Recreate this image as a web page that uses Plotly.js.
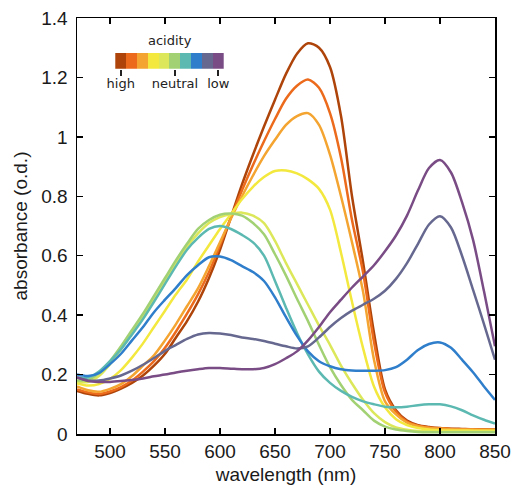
<!DOCTYPE html>
<html>
<head>
<meta charset="utf-8">
<script src="https://cdn.plot.ly/plotly-3.0.1.min.js"></script>
<style>html,body{margin:0;padding:0;background:#fff;}#chart{width:513px;height:485px;}</style>
</head>
<body>
<div id="chart"></div>
<script>
const wavelength = [470,480,490,500,510,520,530,540,550,560,570,580,590,600,610,620,630,640,650,660,670,680,690,700,710,720,730,740,750,760,770,780,790,800,810,820,830,840,850];

const absHigh1 = [0.145,0.135,0.13,0.138,0.153,0.172,0.197,0.23,0.27,0.325,0.38,0.445,0.525,0.62,0.73,0.84,0.94,1.035,1.125,1.212,1.28,1.315,1.30,1.235,1.07,0.80,0.58,0.34,0.15,0.08,0.045,0.03,0.024,0.02,0.018,0.017,0.016,0.016,0.015];
const absHigh2 = [0.15,0.14,0.135,0.143,0.158,0.18,0.21,0.245,0.29,0.345,0.405,0.47,0.545,0.635,0.73,0.82,0.905,0.985,1.06,1.128,1.172,1.193,1.165,1.08,0.93,0.72,0.545,0.31,0.14,0.075,0.042,0.028,0.022,0.019,0.017,0.016,0.015,0.015,0.014];
const absHigh3 = [0.16,0.147,0.142,0.152,0.168,0.195,0.23,0.265,0.315,0.37,0.43,0.49,0.565,0.645,0.725,0.80,0.87,0.935,0.99,1.04,1.07,1.08,1.04,0.94,0.80,0.645,0.48,0.25,0.11,0.066,0.038,0.026,0.02,0.018,0.016,0.015,0.015,0.014,0.014];
const absMid4 = [0.17,0.163,0.168,0.185,0.215,0.257,0.305,0.36,0.415,0.47,0.52,0.58,0.635,0.69,0.74,0.79,0.832,0.865,0.885,0.887,0.877,0.857,0.825,0.755,0.61,0.445,0.29,0.16,0.09,0.05,0.03,0.02,0.015,0.013,0.012,0.012,0.011,0.011,0.011];
const absMid5 = [0.175,0.175,0.195,0.235,0.285,0.34,0.395,0.455,0.515,0.575,0.63,0.675,0.71,0.73,0.74,0.745,0.735,0.71,0.65,0.575,0.505,0.435,0.365,0.30,0.23,0.17,0.115,0.07,0.04,0.022,0.014,0.01,0.009,0.008,0.008,0.008,0.008,0.008,0.008];
const absNeutral6 = [0.18,0.182,0.205,0.245,0.295,0.35,0.405,0.465,0.525,0.585,0.64,0.69,0.72,0.738,0.742,0.735,0.71,0.672,0.605,0.533,0.455,0.38,0.30,0.225,0.165,0.115,0.08,0.045,0.025,0.015,0.01,0.007,0.006,0.006,0.006,0.006,0.006,0.006,0.006];
const absMid7 = [0.19,0.19,0.21,0.245,0.285,0.335,0.387,0.445,0.505,0.565,0.62,0.66,0.69,0.70,0.69,0.67,0.645,0.60,0.515,0.425,0.34,0.268,0.21,0.172,0.145,0.125,0.11,0.10,0.092,0.09,0.092,0.097,0.10,0.10,0.093,0.08,0.063,0.048,0.035];
const absLow8 = [0.20,0.195,0.205,0.235,0.27,0.315,0.36,0.41,0.452,0.492,0.535,0.568,0.595,0.597,0.585,0.565,0.545,0.515,0.46,0.393,0.33,0.278,0.245,0.228,0.218,0.214,0.213,0.213,0.215,0.225,0.25,0.283,0.303,0.308,0.29,0.25,0.208,0.16,0.115];
const absLow9 = [0.19,0.18,0.18,0.187,0.197,0.213,0.233,0.256,0.28,0.30,0.32,0.335,0.34,0.338,0.333,0.325,0.32,0.313,0.304,0.295,0.288,0.295,0.325,0.36,0.39,0.415,0.435,0.455,0.482,0.522,0.575,0.64,0.705,0.733,0.695,0.60,0.486,0.37,0.25];
const absLow10 = [0.19,0.178,0.175,0.175,0.178,0.182,0.187,0.194,0.2,0.207,0.213,0.218,0.222,0.222,0.22,0.218,0.218,0.222,0.235,0.255,0.278,0.315,0.36,0.41,0.452,0.493,0.53,0.568,0.615,0.668,0.735,0.82,0.895,0.922,0.88,0.78,0.654,0.48,0.295];

const seriesColors = ['#AE4409','#EC6A1C','#F4A430','#F3E83E','#DCE85A','#A2D174','#5CB9B2','#2E7ECB','#666890','#7A4C85'];
const seriesData = [absHigh1,absHigh2,absHigh3,absMid4,absMid5,absNeutral6,absMid7,absLow8,absLow9,absLow10];

const scaleSteps = [0,1,2,3,4,5,6,7,8,9];
const scaleHeights = [1,1,1,1,1,1,1,1,1,1];
const scaleTickVals = [0,5,9];
const scaleTickText = ['high','neutral','low'];
const scaleTitle = 'acidity';

const traces = seriesData.map((ys, i) => ({
  type: 'scatter', mode: 'lines', x: wavelength, y: ys,
  line: {color: seriesColors[i], width: 2.5, shape: 'spline', smoothing: 0.8},
  hoverinfo: 'skip', showlegend: false
}));

traces.push({
  type: 'bar', x: scaleSteps, y: scaleHeights, width: 1,
  marker: {color: seriesColors, line: {width: 0}},
  xaxis: 'x2', yaxis: 'y2', showlegend: false, hoverinfo: 'skip'
});

const fam = '"Liberation Sans", Arial, sans-serif';
const axisFont = {family: fam, size: 19, color: '#1a1a1a'};

const layout = {
  width: 513, height: 485,
  margin: {l: 77, r: 18, t: 18, b: 51},
  paper_bgcolor: '#fff', plot_bgcolor: '#fff',
  showlegend: false,
  bargap: 0,
  xaxis: {
    range: [470, 850], tick0: 500, dtick: 50,
    ticks: 'inside', ticklen: 6, tickwidth: 1.5, tickcolor: '#000',
    showline: true, linewidth: 1.5, linecolor: '#000', mirror: 'ticks',
    showgrid: false, zeroline: false,
    tickfont: axisFont,
    title: {text: 'wavelength (nm)', font: {family: fam, size: 19, color: '#1a1a1a'}, standoff: 9}
  },
  yaxis: {
    range: [0, 1.4], tick0: 0, dtick: 0.2,
    ticks: 'inside', ticklen: 6, tickwidth: 1.5, tickcolor: '#000',
    showline: true, linewidth: 1.5, linecolor: '#000', mirror: 'ticks',
    showgrid: false, zeroline: false,
    tickfont: axisFont, ticklabelstandoff: 4,
    title: {text: 'absorbance (o.d.)', font: {family: fam, size: 19, color: '#1a1a1a'}, standoff: 8}
  },
  xaxis2: {
    domain: [0.0916, 0.351], anchor: 'y2', range: [-0.5, 9.5],
    tickmode: 'array', tickvals: scaleTickVals, ticktext: scaleTickText,
    ticks: 'outside', ticklen: 6, tickwidth: 2, tickcolor: '#222',
    showline: false, showgrid: false, zeroline: false, fixedrange: true,
    ticklabelstandoff: -3,
    tickfont: {family: '"DejaVu Sans", sans-serif', size: 13, color: '#222'}
  },
  yaxis2: {
    domain: [0.878, 0.916], anchor: 'x2', range: [0, 1],
    visible: false, fixedrange: true
  },
  annotations: [{
    text: scaleTitle, xref: 'x2 domain', yref: 'y2 domain', x: 0.5, y: 1,
    xanchor: 'center', yanchor: 'bottom', yshift: 3, showarrow: false,
    font: {family: '"DejaVu Sans", sans-serif', size: 13, color: '#222'}
  }]
};

Plotly.newPlot('chart', traces, layout, {displayModeBar: false, staticPlot: true});
</script>
</body>
</html>
